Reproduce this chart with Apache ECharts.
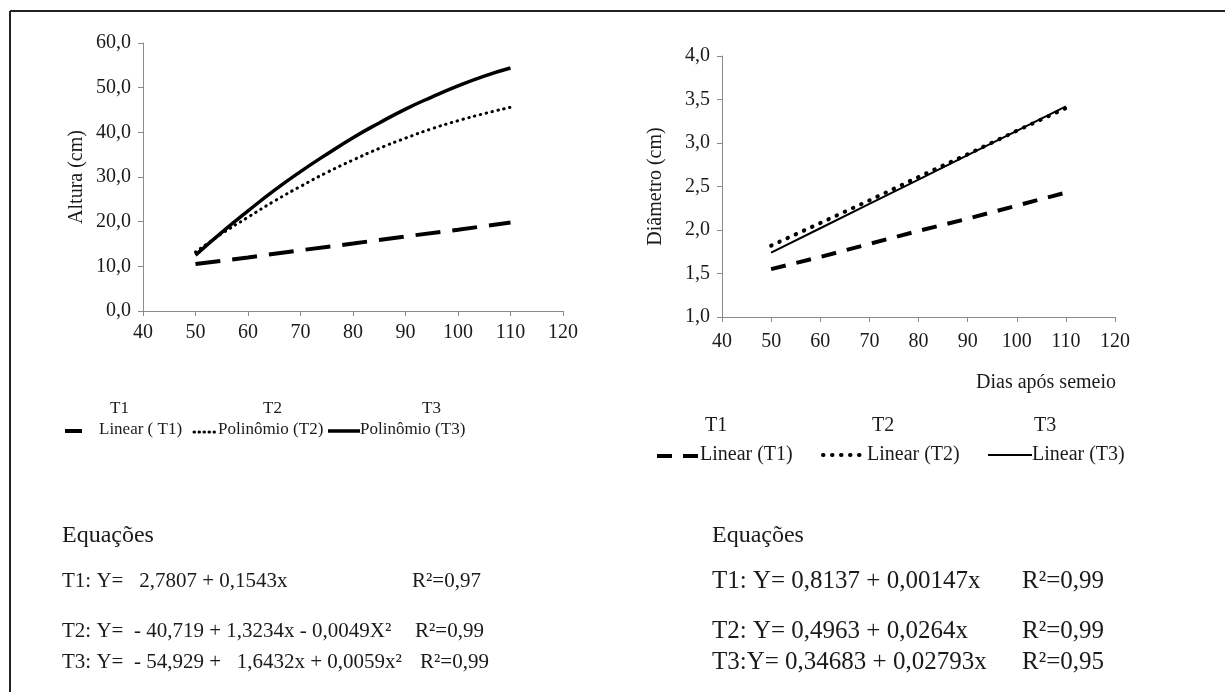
<!DOCTYPE html>
<html>
<head>
<meta charset="utf-8">
<script src="https://cdn.jsdelivr.net/npm/echarts@6/dist/echarts.min.js"></script>
<style>
html,body{margin:0;padding:0;background:#fff;}
#chart{width:1225px;height:692px;}
</style>
</head>
<body>
<div id="chart"></div>
<script>
// ---- data ----
const days = [50, 60, 70, 80, 90, 100, 110];
const daysFine = [50, 55, 60, 65, 70, 75, 80, 85, 90, 95, 100, 105, 110];
const alturaT1 = [10.5, 12.0, 13.6, 15.1, 16.7, 18.2, 19.8];
const alturaT2 = [13.2, 17.3, 21.0, 24.6, 27.9, 31.0, 33.8, 36.4, 38.7, 40.8, 42.6, 44.2, 45.6];
const alturaT3 = [12.5, 17.6, 22.4, 27.0, 31.2, 35.1, 38.8, 42.1, 45.2, 47.9, 50.4, 52.6, 54.4];
const diamT1 = [1.55, 1.69, 1.84, 1.99, 2.13, 2.28, 2.43];
const diamT2 = [1.82, 2.08, 2.34, 2.61, 2.87, 3.14, 3.40];
const diamT3 = [1.74, 2.02, 2.30, 2.58, 2.86, 3.14, 3.42];

const leftLegend = ['Linear ( T1)', 'Polinômio (T2)', 'Polinômio (T3)'];
const rightLegend = ['Linear (T1)', 'Linear (T2)', 'Linear (T3)'];
const treatments = ['T1', 'T2', 'T3'];
const eqLeft = ['T1: Y=   2,7807 + 0,1543x', 'T2: Y=  - 40,719 + 1,3234x - 0,0049X²', 'T3: Y=  - 54,929 +   1,6432x + 0,0059x²'];
const r2Left = ['R²=0,97', 'R²=0,99', 'R²=0,99'];
const eqRight = ['T1: Y= 0,8137 + 0,00147x', 'T2: Y= 0,4963 + 0,0264x', 'T3:Y= 0,34683 + 0,02793x'];
const r2Right = ['R²=0,99', 'R²=0,99', 'R²=0,95'];

const FONT = '"Liberation Serif", "DejaVu Serif", serif';
const TXT = '#1a1a1a';
const AX = '#8a8a8a';

function pairs(xs, ys) { return xs.map((x, i) => [x, ys[i]]); }
const comma = v => v.toFixed(1).replace('.', ',');

function xAxisCfg(gi, margin) {
  return {
    type: 'value', gridIndex: gi, min: 40, max: 120, interval: 10,
    axisLine: { show: true, lineStyle: { color: AX, width: 1 } },
    axisTick: { show: true, length: 5, lineStyle: { color: AX } },
    splitLine: { show: false },
    axisLabel: { color: TXT, fontFamily: FONT, fontSize: 20, margin: margin }
  };
}
function yAxisCfg(gi, min, max, interval, name, gap) {
  return {
    type: 'value', gridIndex: gi, min: min, max: max, interval: interval,
    name: name, nameLocation: 'middle', nameGap: gap,
    nameTextStyle: { color: TXT, fontFamily: FONT, fontSize: 20 },
    axisLine: { show: true, lineStyle: { color: AX, width: 1 } },
    axisTick: { show: true, length: 5, lineStyle: { color: AX } },
    splitLine: { show: false },
    axisLabel: { color: TXT, fontFamily: FONT, fontSize: 20, margin: 12, formatter: comma }
  };
}

const graphics = [];
// border
graphics.push({ type: 'line', shape: { x1: 10, y1: 11, x2: 10, y2: 692 }, style: { stroke: '#222', lineWidth: 2 } });
graphics.push({ type: 'line', shape: { x1: 10, y1: 11, x2: 1225, y2: 11 }, style: { stroke: '#222', lineWidth: 2 } });

function txt(x, y, text, size, align) {
  graphics.push({ type: 'text', x: x, y: y, style: { text: text, fill: TXT, font: size + 'px ' + FONT, textAlign: align || 'left', textVerticalAlign: 'middle' } });
}
function seg(x1, x2, y, w, dash, cap) {
  graphics.push({ type: 'line', shape: { x1: x1, y1: y, x2: x2, y2: y }, style: { stroke: '#000', lineWidth: w, lineDash: dash || null, lineCap: cap || 'butt' } });
}

// "Dias após semeio"
txt(1116, 383, 'Dias após semeio', 20, 'right');

// left legend
txt(110, 409, treatments[0], 17); txt(263, 409, treatments[1], 17); txt(422, 409, treatments[2], 17);
seg(65, 82, 431, 4);
txt(99, 430, leftLegend[0], 17);
seg(194, 217, 432, 3, [0.5, 4.5], 'round');
txt(218, 430, leftLegend[1], 17);
seg(328, 360, 431, 3.5);
txt(360, 430, leftLegend[2], 17);

// right legend
txt(705, 426, treatments[0], 20); txt(872, 426, treatments[1], 20); txt(1034, 426, treatments[2], 20);
seg(657, 700, 456, 4, [15, 11]);
txt(700, 455, rightLegend[0], 20);
seg(823, 866, 455, 4, [0.5, 8.5], 'round');
txt(867, 455, rightLegend[1], 20);
seg(988, 1032, 455, 2);
txt(1032, 455, rightLegend[2], 20);

// equations
txt(62, 536, 'Equações', 24); txt(712, 536, 'Equações', 24);
const rowsY = [581, 631, 662];
const r2xL = [412, 415, 420];
for (let i = 0; i < 3; i++) {
  txt(62, rowsY[i], eqLeft[i], 21);
  txt(r2xL[i], rowsY[i], r2Left[i], 21);
  txt(712, rowsY[i], eqRight[i], 25);
  txt(1022, rowsY[i], r2Right[i], 25);
}

const chart = echarts.init(document.getElementById('chart'), null, { renderer: 'canvas' });
chart.setOption({
  animation: false,
  backgroundColor: '#fff',
  grid: [
    { left: 143, top: 43, width: 420, height: 268 },
    { left: 722, top: 56, width: 393, height: 261 }
  ],
  xAxis: [xAxisCfg(0, 12), xAxisCfg(1, 15)],
  yAxis: [
    yAxisCfg(0, 0, 60, 10, 'Altura (cm)', 56),
    yAxisCfg(1, 1, 4, 0.5, 'Diâmetro (cm)', 56)
  ],
  series: [
    { type: 'line', xAxisIndex: 0, yAxisIndex: 0, data: pairs(days, alturaT1), symbol: 'none',
      lineStyle: { color: '#000', width: 4, type: [25, 12] } },
    { type: 'line', xAxisIndex: 0, yAxisIndex: 0, data: pairs(daysFine, alturaT2), symbol: 'none', smooth: true,
      lineStyle: { color: '#000', width: 3, type: [0.5, 5.5], cap: 'round' } },
    { type: 'line', xAxisIndex: 0, yAxisIndex: 0, data: pairs(daysFine, alturaT3), symbol: 'none', smooth: true,
      lineStyle: { color: '#000', width: 3.5 } },
    { type: 'line', xAxisIndex: 1, yAxisIndex: 1, data: pairs(days, diamT1), symbol: 'none',
      lineStyle: { color: '#000', width: 4, type: [15, 11] } },
    { type: 'line', xAxisIndex: 1, yAxisIndex: 1, data: pairs(days, diamT2), symbol: 'none',
      lineStyle: { color: '#000', width: 4, type: [0.5, 8.5], cap: 'round' } },
    { type: 'line', xAxisIndex: 1, yAxisIndex: 1, data: pairs(days, diamT3), symbol: 'none',
      lineStyle: { color: '#000', width: 2 } }
  ],
  graphic: graphics
});
</script>
</body>
</html>
